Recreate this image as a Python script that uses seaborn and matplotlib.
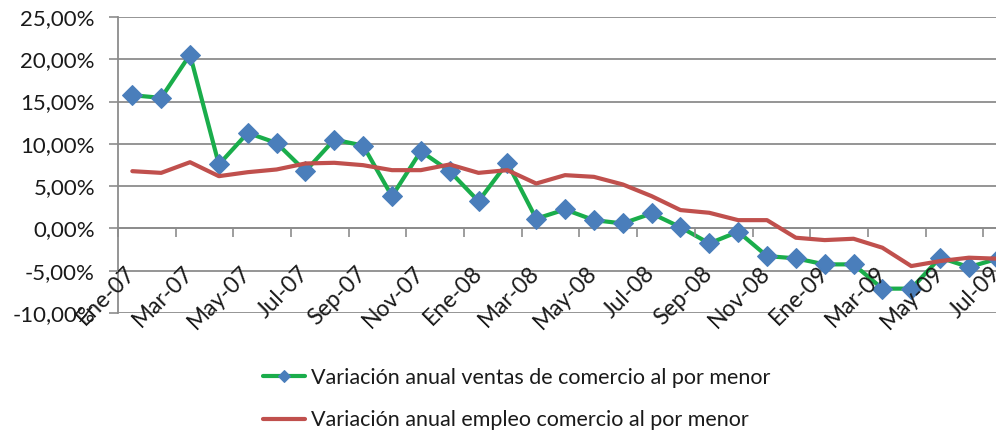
import matplotlib
matplotlib.use("Agg")
import matplotlib.pyplot as plt
import seaborn as sns
import pandas as pd
import numpy as np
from matplotlib.ticker import FuncFormatter, FixedLocator

months = ["Ene-07", "Feb-07", "Mar-07", "Abr-07", "May-07", "Jun-07", "Jul-07", "Ago-07",
          "Sep-07", "Oct-07", "Nov-07", "Dic-07", "Ene-08", "Feb-08", "Mar-08", "Abr-08",
          "May-08", "Jun-08", "Jul-08", "Ago-08", "Sep-08", "Oct-08", "Nov-08", "Dic-08",
          "Ene-09", "Feb-09", "Mar-09", "Abr-09", "May-09", "Jun-09", "Jul-09"]

ventas = [15.75, 15.44, 20.55, 7.56, 11.30, 10.10, 6.77, 10.50, 9.80, 3.80, 9.13, 6.77,
          3.22, 7.76, 1.15, 2.24, 0.98, 0.59, 1.77, 0.15, -1.77, -0.39, -3.27, -3.54,
          -4.25, -4.25, -7.12, -7.12, -3.46, -4.57, -3.58]

empleo = [6.77, 6.57, 7.83, 6.18, 6.65, 6.97, 7.68, 7.76, 7.48, 6.89, 6.89, 7.56,
          6.57, 6.89, 5.31, 6.30, 6.10, 5.20, 3.82, 2.17, 1.85, 0.98, 0.98, -1.10,
          -1.38, -1.22, -2.28, -4.45, -3.86, -3.46, -3.58]

label_ventas = "Variación anual ventas de comercio al por menor"
label_empleo = "Variación anual empleo comercio al por menor"

yticks = [-10, -5, 0, 5, 10, 15, 20, 25]

df = pd.DataFrame({"idx": np.arange(len(months)), "mes": months,
                   "ventas": ventas, "empleo": empleo})

sns.set_theme(style="white")
plt.rcParams["font.family"] = ["Lato", "DejaVu Sans"]

W, H = 996, 434
fig = plt.figure(figsize=(W / 100, H / 100), dpi=100)
left_px, right_px, top_px, bot_px = 117.9, 1012.2, 17, 313
ax = fig.add_axes([left_px / W, 1 - bot_px / H, (right_px - left_px) / W, (bot_px - top_px) / H])

green = "#1aad4b"
blue = "#4a7ebb"
red = "#c0504d"
grid_c = "#8c8c8c"

sns.lineplot(data=df, x="idx", y="ventas", ax=ax, color=green, linewidth=3.0,
             marker="D", markersize=10, markerfacecolor=blue, markeredgecolor=blue,
             label=label_ventas, zorder=3)
sns.lineplot(data=df, x="idx", y="empleo", ax=ax, color=red, linewidth=3.0,
             label=label_empleo, zorder=4)

ax.set_xlim(-0.5, len(months) - 0.5)
ax.set_ylim(-10, 25)

# spines first (set_position resets tick styling)
ax.spines["bottom"].set_position(("data", 0))
ax.spines["bottom"].set_color(grid_c)
ax.spines["bottom"].set_linewidth(1.3)
ax.spines["left"].set_color(grid_c)
ax.spines["left"].set_linewidth(1.3)
ax.spines["top"].set_visible(False)
ax.spines["right"].set_visible(False)

# gridlines (below data)
for v in yticks:
    ax.axhline(v, color=grid_c, linewidth=1.3, zorder=0.5)
ax.grid(False)
ax.set_axisbelow(False)
ax.xaxis.set_zorder(5)
ax.yaxis.set_zorder(5)

ax.set_yticks(yticks)
ax.yaxis.set_major_formatter(FuncFormatter(lambda v, p: f"{v:.2f}".replace(".", ",") + "%"))
ax.tick_params(axis="y", which="major", length=6.5, width=1.2, color=grid_c,
               pad=10, labelsize=16, labelcolor="#1a1a1a", left=True)

label_pos = list(range(0, len(months), 2))
ax.xaxis.set_major_locator(FixedLocator(label_pos))
ax.xaxis.set_minor_locator(FixedLocator([p - 0.5 for p in label_pos]))
ax.tick_params(axis="x", which="major", length=0, pad=30, labelsize=16.5,
               labelcolor="#1a1a1a", bottom=True)
ax.tick_params(axis="x", which="minor", length=6.5, width=1.2, color=grid_c, bottom=True)
ax.set_xticklabels([months[i] for i in label_pos], rotation=45, rotation_mode="anchor",
                   ha="right", va="center")
ax.set_xlabel("")
ax.set_ylabel("")

handles, labels = ax.get_legend_handles_labels()
ax.get_legend().remove()
fig.legend(handles, labels, loc="center", bbox_to_anchor=(0.5186, 1 - 399 / H),
           frameon=False, fontsize=15.5, handlelength=1.95, handletextpad=0.3,
           labelspacing=1.05, markerscale=0.6, labelcolor="#1a1a1a")

fig.savefig("out.png", dpi=100)
